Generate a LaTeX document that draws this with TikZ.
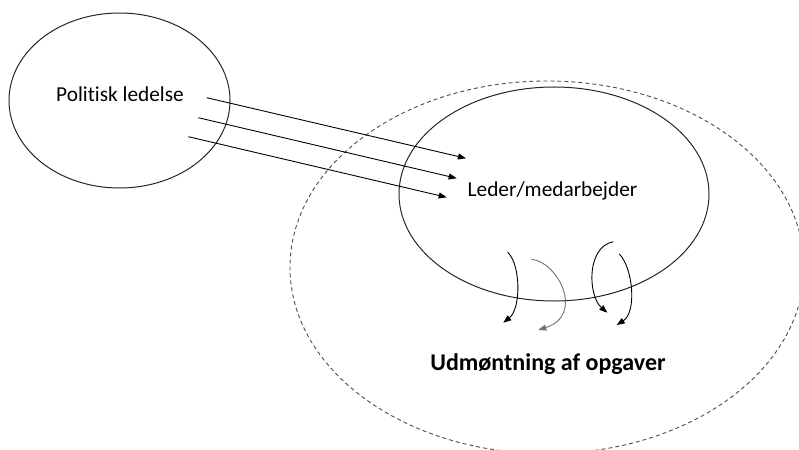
\documentclass[tikz,border=0pt]{standalone}
\usepackage{fontspec}
\setmainfont{Carlito}[Ligatures={NoCommon,NoContextual}]
\usetikzlibrary{shapes.geometric,arrows.meta}
\begin{document}
\begin{tikzpicture}[x=1pt,y=-1pt,
  oval/.style={draw=black!85,line width=1pt,ellipse,inner sep=0pt},
  dashoval/.style={draw=black!70,line width=0.9pt,ellipse,inner sep=0pt,dash pattern=on 4pt off 3pt},
  txt/.style={font=\fontsize{21.3}{25}\selectfont,inner sep=0pt,anchor=base},
  boldtxt/.style={font=\bfseries\fontsize{24}{28}\selectfont,inner sep=0pt,anchor=base},
  flow/.style={line width=0.9pt,-{Triangle[length=8pt,width=6pt]}},
]
\useasboundingbox (0,0) rectangle (799,449);

% the three areas
\node[dashoval,minimum width=514pt,minimum height=372.6pt] (outer) at (547,267.3) {};
\node[oval,minimum width=221pt,minimum height=175pt] (pol) at (119.5,100.5) {};
\node[oval,minimum width=310pt,minimum height=214pt] (leder) at (554,194) {};

% labels
\node[txt] (poltxt) at (120,101.7) {Politisk ledelse};
\node[txt] (ledtxt) at (552.5,196.7) {Leder/medarbejder};
\node[boldtxt] (udtxt) at (548,370) {Udmøntning af opgaver};

% straight arrows from the political level
\coordinate (s1) at (206.7,97.7);  \coordinate (e1) at (466,158.3);
\coordinate (s2) at (198.3,117.7); \coordinate (e2) at (456.7,178.3);
\coordinate (s3) at (188.3,136.7); \coordinate (e3) at (446.7,197.3);
\draw[flow] (s1) -- (e1);
\draw[flow] (s2) -- (e2);
\draw[flow] (s3) -- (e3);

% curved arrows down to the tasks
\coordinate (a1) at (507.7,252.3); \coordinate (a2) at (503.3,322.7);
\coordinate (b1) at (531.7,259.3); \coordinate (b2) at (538.3,330);
\coordinate (c1) at (613.3,241.7); \coordinate (c2) at (607.3,312.7);
\coordinate (d1) at (619.3,254);   \coordinate (d2) at (616.7,325);
\draw[flow] (a1) .. controls (521,265) and (521,308.7) .. (a2);
\draw[flow,draw=black!55] (b1) .. controls (558,262) and (585,315) .. (b2);
\draw[flow] (c1) .. controls (586,247) and (588,296) .. (c2);
\draw[flow] (d1) .. controls (633,268) and (637,312) .. (d2);
\end{tikzpicture}
\end{document}
